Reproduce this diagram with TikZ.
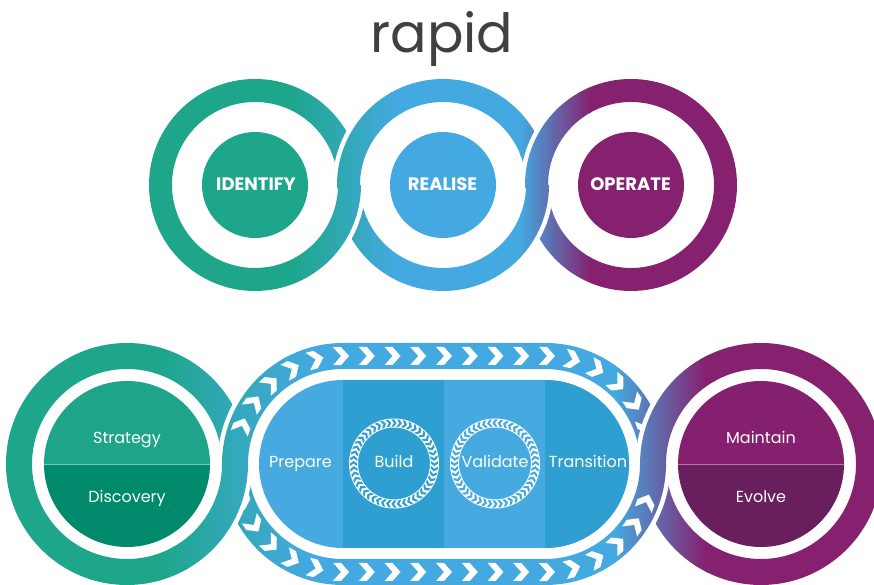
\documentclass[tikz,border=0pt]{standalone}
\usepackage{fontspec}
\setmainfont{Poppins}
\usetikzlibrary{calc}

\definecolor{cGreen}{HTML}{1DA68A}
\definecolor{cTeal}{HTML}{33A8BA}
\definecolor{cBlue}{HTML}{44A9E0}
\definecolor{cPurple}{HTML}{85216F}
\definecolor{cStrat}{HTML}{1EA589}
\definecolor{cDisc}{HTML}{008A6C}
\definecolor{cMaint}{HTML}{85206F}
\definecolor{cEvol}{HTML}{691F5D}
\definecolor{cColA}{HTML}{46AAE1}
\definecolor{cColB}{HTML}{2F9FD2}
\definecolor{cInk}{HTML}{433F3C}

% horizontal colour run of the upper chain
\newcommand\paintTop{%
  \fill[cGreen] (100,280) rectangle (291,520);
  \shade[left color=cGreen,right color=cTeal] (290,280) rectangle (349.5,520);
  \shade[left color=cTeal,right color=cBlue] (349,280) rectangle (395.5,520);
  \fill[cBlue] (395,280) rectangle (520.5,520);
  \shade[left color=cBlue,right color=cPurple] (520,280) rectangle (590.5,520);
  \fill[cPurple] (590,280) rectangle (800,520);
}
% horizontal colour run of the lower chain
\newcommand\paintBot{%
  \fill[cGreen] (-5,-5) rectangle (161,250);
  \shade[left color=cGreen,right color=cTeal] (160,-5) rectangle (235.5,250);
  \shade[left color=cTeal,right color=cBlue] (235,-5) rectangle (310.5,250);
  \fill[cBlue] (310,-5) rectangle (615.5,250);
  \shade[left color=cBlue,right color=cPurple] (615,-5) rectangle (705.5,250);
  \fill[cPurple] (705,-5) rectangle (900,250);
}
% ring = annulus (outer turn anticlockwise, inner turn clockwise) painted with a colour run
\newcommand\annulus[4]{%
  \begin{scope}
    \clip ($(#1)+(0:#2)$) arc[start angle=0,end angle=360,radius=#2] -- cycle
          ($(#1)+(0:#3)$) arc[start angle=360,end angle=0,radius=#3] -- cycle;
    #4
  \end{scope}}
% part of a ring that passes over its neighbour, with a white rim;
% the paint runs a little past the rim so no seam is left at its ends
\newcommand\overarc[6]{%
  \pgfmathsetmacro\Rw{#2+4.5}\pgfmathsetmacro\rw{#3-4.5}%
  \pgfmathsetmacro\aa{#4-1.5}\pgfmathsetmacro\ab{#5+1.5}%
  \fill[white] ($(#1)+(#4:\Rw)$) arc[start angle=#4,end angle=#5,radius=\Rw]
     -- ($(#1)+(#5:\rw)$) arc[start angle=#5,end angle=#4,radius=\rw] -- cycle;
  \begin{scope}
    \clip ($(#1)+(\aa:#2)$) arc[start angle=\aa,end angle=\ab,radius=#2]
     -- ($(#1)+(\ab:#3)$) arc[start angle=\ab,end angle=\aa,radius=#3] -- cycle;
    #6
  \end{scope}}
% one white chevron of the track
\newcommand\chevron[3]{%
  \fill[white,shift={(#1,#2)},rotate=#3]
    (-8,-9) -- (0,-9) -- (8,0) -- (0,9) -- (-8,9) -- (0,0) -- cycle;}
% chevrons along both halves of the track, left end to right end
\newcommand\stadchev{%
  \foreach \k in {0,...,18}{%
    \pgfmathsetmacro\s{39+25.74*\k}%
    \pgfmathsetmacro\px{\s<169.65 ? 343+108*cos(180-\s*0.53052) : (\s<371.65 ? 343+\s-169.65 : 545+108*cos(90-(\s-371.65)*0.53052))}%
    \pgfmathsetmacro\pdy{\s<169.65 ? 108*sin(180-\s*0.53052) : (\s<371.65 ? 108 : 108*sin(90-(\s-371.65)*0.53052))}%
    \pgfmathsetmacro\pa{\s<169.65 ? 90-\s*0.53052 : (\s<371.65 ? 0 : -(\s-371.65)*0.53052)}%
    \pgfmathsetmacro\pb{-1*(\pa)}%
    \chevron{\px}{121+\pdy}{\pa}%
    \chevron{\px}{121-\pdy}{\pb}%
  }}
% small chevron ring: centre, chevron colour, turn offset (-90 clockwise, 90 anticlockwise)
\newcommand\ringchev[4]{%
  \fill[white,even odd rule] (#1,#2) circle[radius=45] (#1,#2) circle[radius=36];
  \foreach \t in {0,7.5,...,352.5}{%
    \pgfmathsetmacro\rot{\t+#4}%
    \fill[#3,shift={($(#1,#2)+(\t:40.5)$)},rotate=\rot]
      (-2.6,-3.6) -- (0,-3.6) -- (2.6,0) -- (0,3.6) -- (-2.6,3.6) -- (0,0) -- cycle;}}

\begin{document}
\begin{tikzpicture}[x=1pt,y=1pt,
  lbl/.style={text=white,inner sep=0pt,font=\fontsize{16}{18}\selectfont},
  caplbl/.style={text=white,inner sep=0pt,font=\fontsize{18}{20}\selectfont\bfseries}]
\useasboundingbox (0,0) rectangle (874,585);
\clip (0,0) rectangle (874,585);

% title
\node[anchor=base,text=cInk,inner sep=0pt,font=\fontsize{54}{60}\selectfont] (title) at (442,532) {rapid};

% ---- upper chain ----
\annulus{255,400}{106}{83}{\paintTop}
\annulus{443,400}{106}{83}{\paintTop}
\annulus{631,400}{106}{83}{\paintTop}
\overarc{255,400}{106}{83}{300}{360}{\paintTop}
\overarc{443,400}{106}{83}{120}{180}{\paintTop}
\overarc{443,400}{106}{83}{300}{360}{\paintTop}
\overarc{631,400}{106}{83}{120}{180}{\paintTop}

\fill[cGreen] (255,400) circle[radius=53];
\fill[cBlue] (443,400) circle[radius=53];
\fill[cPurple] (631,400) circle[radius=53];
\node[caplbl] (identify) at (256,400.5) {IDENTIFY};
\node[caplbl] (realise) at (442.5,400.5) {REALISE};
\node[caplbl] (operate) at (630.5,400.5) {OPERATE};

% ---- lower chain ----
\annulus{127,121}{121}{95}{\paintBot}
\begin{scope}
  \clip
    (343,0) -- (545,0) arc[start angle=-90,end angle=90,radius=121]
      -- (343,242) arc[start angle=90,end angle=270,radius=121] -- cycle
    (343,26) arc[start angle=270,end angle=90,radius=95]
      -- (545,216) arc[start angle=90,end angle=-90,radius=95] -- cycle;
  \paintBot
  \stadchev
\end{scope}
\annulus{761,121}{121}{95}{\paintBot}
\overarc{127,121}{121}{95}{300}{360}{\paintBot}
\overarc{343,121}{121}{95}{120}{180}{\paintBot\stadchev}
\overarc{545,121}{121}{95}{300}{360}{\paintBot\stadchev}
\overarc{761,121}{121}{95}{120}{180}{\paintBot}

% split discs at both ends
\begin{scope}
  \clip (127,121) circle[radius=83];
  \fill[cStrat] (40,121) rectangle (215,210);
  \fill[cDisc] (40,30) rectangle (215,121);
  \draw[cStrat!60!white,line width=0.7] (40,121) -- (215,121);
\end{scope}
\begin{scope}
  \clip (761,121) circle[radius=83];
  \fill[cMaint] (670,121) rectangle (850,210);
  \fill[cEvol] (670,30) rectangle (850,121);
  \draw[cMaint!60!white,line width=0.7] (670,121) -- (850,121);
\end{scope}

% track interior with four phases
\fill[cColA] (343,37) -- (545,37) arc[start angle=-90,end angle=90,radius=84]
  -- (343,205) arc[start angle=90,end angle=270,radius=84] -- cycle;
\fill[cColB] (343,37) rectangle (444,205);
\fill[cColB] (545,37) arc[start angle=-90,end angle=90,radius=84] -- cycle;

\ringchev{394}{121.5}{cColB}{-90}
\ringchev{495}{121.5}{cColA}{90}

\node[lbl,anchor=base] (strategy) at (127,141) {Strategy};
\node[lbl,anchor=base] (discovery) at (127,82) {Discovery};
\node[lbl,anchor=base] (maintain) at (761,141) {Maintain};
\node[lbl,anchor=base] (evolve) at (761,82) {Evolve};
\node[lbl,anchor=base] (prepare) at (300.5,117) {Prepare};
\node[lbl,anchor=base] (build) at (394,117) {Build};
\node[lbl,anchor=base] (validate) at (495,117) {Validate};
\node[lbl,anchor=base] (transition) at (588,117) {Transition};
\end{tikzpicture}
\end{document}
